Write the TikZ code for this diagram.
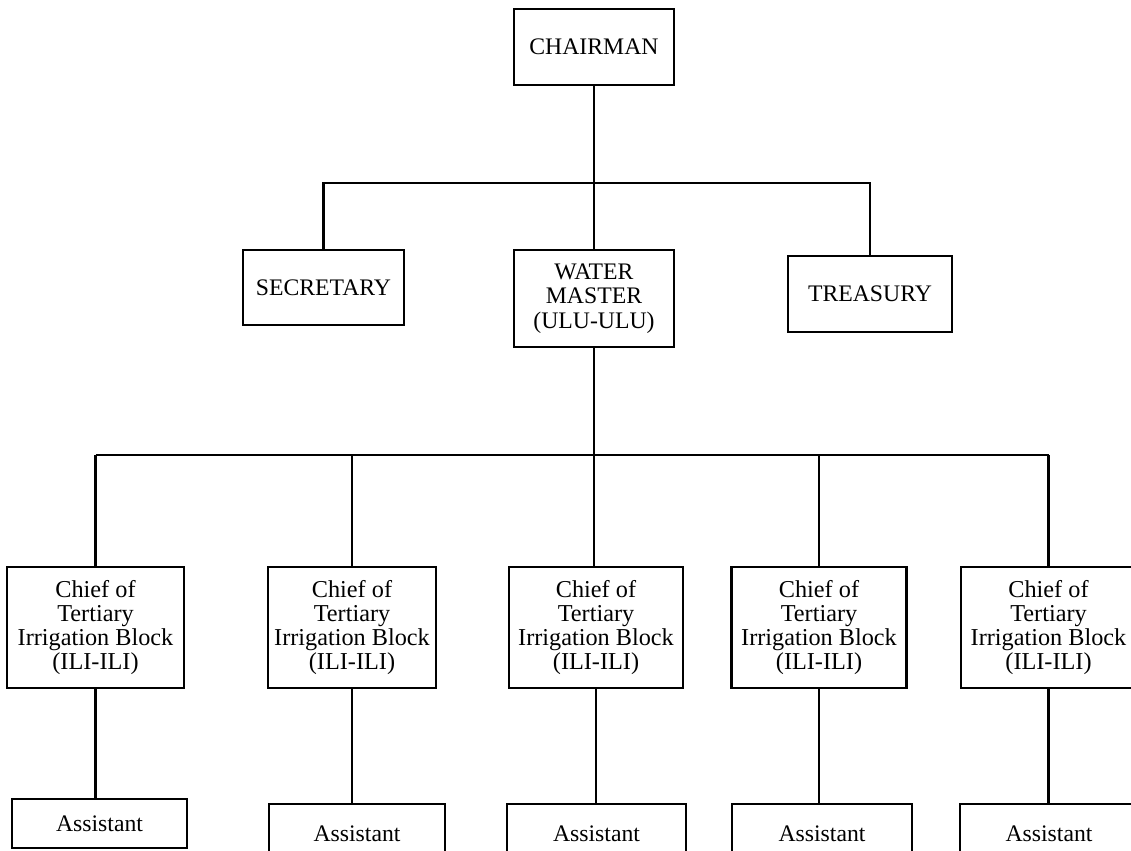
\documentclass[tikz,border=0pt]{standalone}
\usepackage{fontspec}
\setmainfont{Liberation Serif}
\begin{document}
\begin{tikzpicture}[x=0.2mm, y=-0.2mm,
    orgbox/.style={draw, line width=1.2pt, align=center, inner sep=2pt,
      font={\fontsize{13.5}{14}\selectfont}},
    link/.style={line width=1.3pt}]
  \useasboundingbox (0,0) rectangle (1131,851);
  \clip (0,0) rectangle (1131,851);
  % top level
  \node[orgbox, minimum width=32mm, minimum height=15.2mm] (chair) at (594,47) {CHAIRMAN};
  \node[orgbox, minimum width=32.2mm, minimum height=15mm] (secr) at (323.5,287.5) {SECRETARY};
  \node[orgbox, minimum width=32mm, minimum height=19.4mm] (water) at (594,298.5) {WATER\\MASTER\\(ULU-ULU)};
  \node[orgbox, minimum width=32.8mm, minimum height=15.2mm] (treas) at (870,294) {TREASURY};
  \coordinate (busA) at (594,183);
  \draw[link] (chair) -- (water);
  \draw[link] (secr.north) |- (busA) -| (treas.north);
  % chiefs of the tertiary blocks
  \foreach \cx/\w [count=\n] in {95.5/35.4, 352/33.6, 596/34.8, 819/35, 1048.5/35} {
    \node[orgbox, minimum width=\w mm, minimum height=24.2mm,
      font={\fontsize{13.8}{13.6}\selectfont}] (chief\n) at (\cx,627.5)
      {Chief of\\Tertiary\\Irrigation Block\\(ILI-ILI)};
  }
  \coordinate (busB) at (594,455);
  \draw[link] (water) -- (water |- chief3.north);
  \draw[link] (chief1.north |- busB) -- (chief5.north |- busB);
  \foreach \n in {1,2,4,5} {
    \draw[link] (chief\n.north) -- (chief\n.north |- busB);
  }
  % assistants
  \foreach \cx/\cy/\w/\h [count=\n] in {99.5/823.5/35/9.8, 357/834/35.2/12, 596.5/834/35.8/12, 822/834/36/12, 1049/834/35.6/12} {
    \node[orgbox, minimum width=\w mm, minimum height=\h mm] (asst\n) at (\cx,\cy) {Assistant};
    \draw[link] (chief\n.south) -- (chief\n.south |- asst\n.north);
  }
\end{tikzpicture}
\end{document}
